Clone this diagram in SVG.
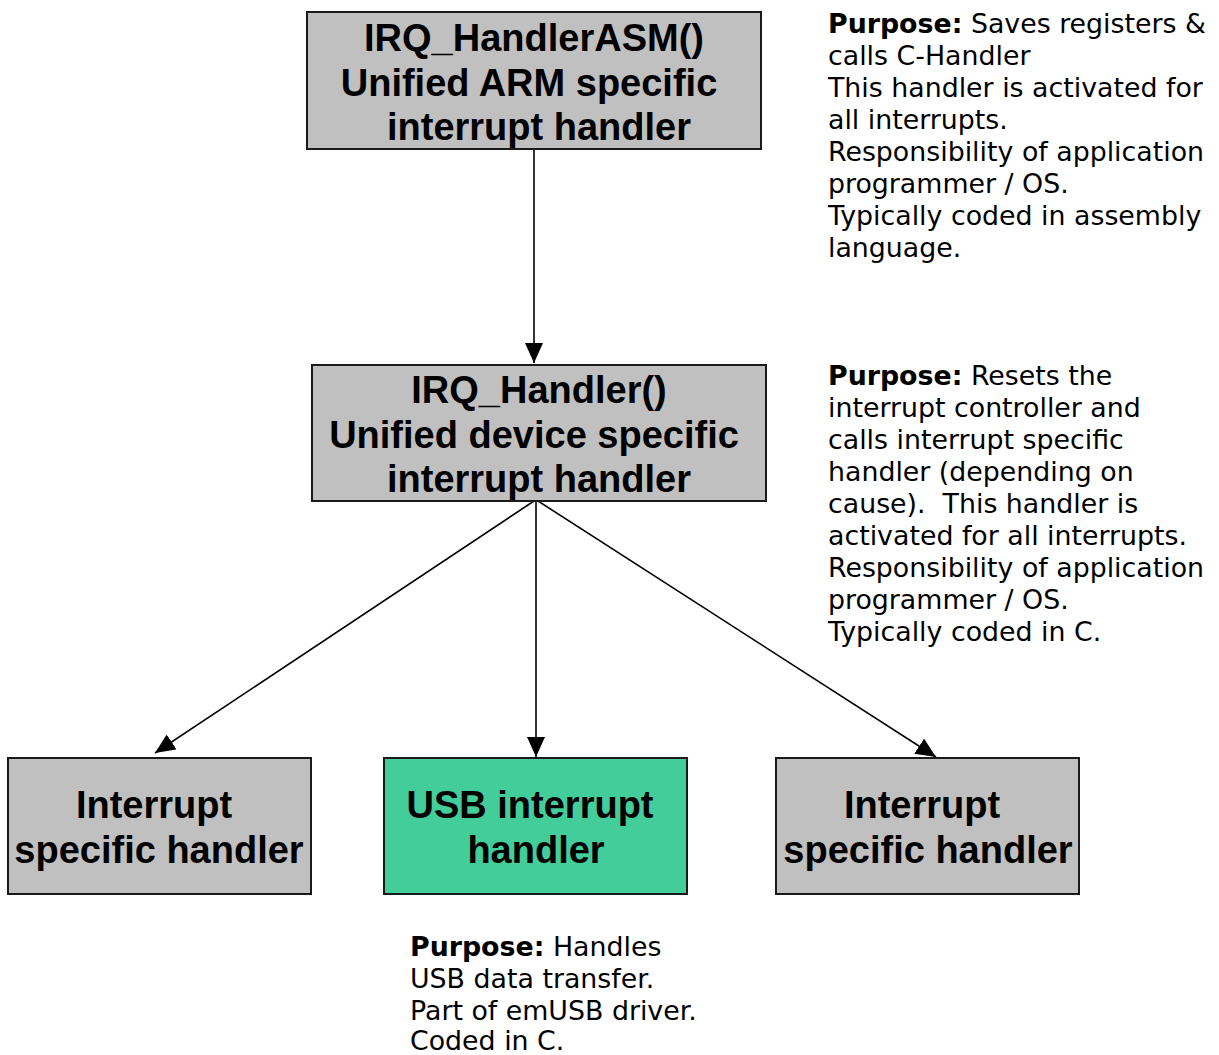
<svg xmlns="http://www.w3.org/2000/svg" width="1219" height="1055" viewBox="0 0 1219 1055">
<style>
.box{fill:#c0c0c0;stroke:#1a1a1a;stroke-width:2}
.usb{fill:#42cd9a;stroke:#1a1a1a;stroke-width:2}
.bt{font-family:"Liberation Sans",Arial,sans-serif;font-weight:bold;font-size:38px;fill:#000;text-anchor:middle}
.nt{font-family:"DejaVu Sans",Verdana,sans-serif;font-size:26.8px;fill:#000}
.nt .b{font-weight:bold}
.con{stroke:#000;stroke-width:1.6;fill:none;marker-end:url(#arr)}
</style>
<defs>
<marker id="arr" markerUnits="userSpaceOnUse" markerWidth="22" markerHeight="20" refX="20" refY="9" orient="auto">
<path d="M0,0 L20,9 L0,18 Z" fill="#000"/>
</marker>
</defs>
<rect width="1219" height="1055" fill="#fff"/>
<g id="connectors">
<line class="con" x1="534" y1="149" x2="534" y2="363"/>
<line class="con" x1="534" y1="501" x2="155" y2="753"/>
<line class="con" x1="536" y1="501" x2="536" y2="757"/>
<line class="con" x1="538" y1="501" x2="936" y2="757"/>
</g>
<g id="n1">
<rect class="box" x="307" y="12" width="454" height="137"/>
<text class="bt" x="534" y="51">IRQ_HandlerASM()</text>
<text class="bt" x="529" y="96">Unified ARM specific</text>
<text class="bt" x="539" y="140">interrupt handler</text>
</g>
<g id="n2">
<rect class="box" x="312" y="365" width="454" height="136"/>
<text class="bt" x="539" y="403">IRQ_Handler()</text>
<text class="bt" x="534" y="448">Unified device specific</text>
<text class="bt" x="539" y="492">interrupt handler</text>
</g>
<g id="n3">
<rect class="box" x="8" y="758" width="303" height="136"/>
<text class="bt" x="154" y="818">Interrupt</text>
<text class="bt" x="159" y="863">specific handler</text>
</g>
<g id="n4">
<rect class="usb" x="384" y="758" width="303" height="136"/>
<text class="bt" x="530" y="818">USB interrupt</text>
<text class="bt" x="536" y="863">handler</text>
</g>
<g id="n5">
<rect class="box" x="776" y="758" width="303" height="136"/>
<text class="bt" x="922" y="818">Interrupt</text>
<text class="bt" x="928" y="863">specific handler</text>
</g>
<g id="note1" class="nt">
<text x="828" y="33"><tspan class="b">Purpose:</tspan> Saves registers &amp;</text>
<text x="828" y="65">calls C-Handler</text>
<text x="828" y="97">This handler is activated for</text>
<text x="828" y="129">all interrupts.</text>
<text x="828" y="161">Responsibility of application</text>
<text x="828" y="193">programmer / OS.</text>
<text x="828" y="225">Typically coded in assembly</text>
<text x="828" y="257">language.</text>
</g>
<g id="note2" class="nt">
<text x="828" y="385"><tspan class="b">Purpose:</tspan> Resets the</text>
<text x="828" y="417">interrupt controller and</text>
<text x="828" y="449">calls interrupt specific</text>
<text x="828" y="481">handler (depending on</text>
<text x="828" y="513" xml:space="preserve">cause).  This handler is</text>
<text x="828" y="545">activated for all interrupts.</text>
<text x="828" y="577">Responsibility of application</text>
<text x="828" y="609">programmer / OS.</text>
<text x="828" y="641">Typically coded in C.</text>
</g>
<g id="note3" class="nt">
<text x="410" y="956"><tspan class="b">Purpose:</tspan> Handles</text>
<text x="410" y="988">USB data transfer.</text>
<text x="410" y="1020">Part of emUSB driver.</text>
<text x="410" y="1050">Coded in C.</text>
</g>
</svg>
